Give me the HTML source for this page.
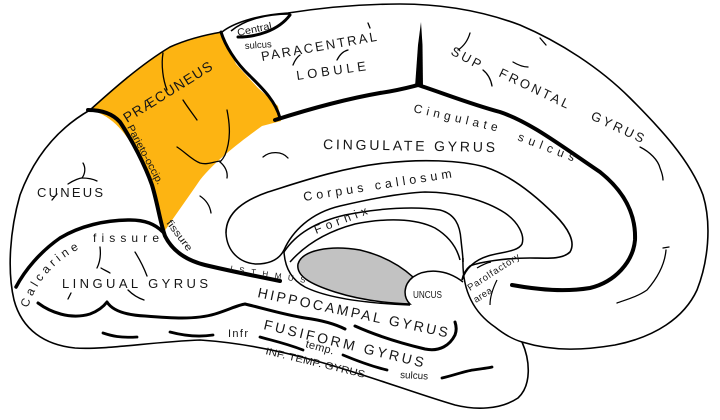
<!DOCTYPE html>
<html>
<head>
<meta charset="utf-8">
<style>
  html,body{margin:0;padding:0;background:#fff;}
  svg{display:block;}
  text{font-family:"Liberation Sans", Arial, sans-serif;fill:#161616;}
</style>
</head>
<body>
<svg width="720" height="420" viewBox="0 0 720 420" xmlns="http://www.w3.org/2000/svg">
  <rect width="720" height="420" fill="#fff"/>

  <!-- Praecuneus yellow region -->
  <path d="M90,110 C110,92 140,65 168,48 C188,39 208,35 221,32 L236,64 L258,88 L278,106 L281,121 L262,126 C240,142 216,160 200,180 C190,195 176,214 164,232 L160,212 C156,190 146,166 132,145 C122,128 108,114 90,110 Z" fill="#FDB412"/>

  <!-- Outer outline -->
  <path d="M90,110 C110,92 140,65 170,47 C190,38 210,34 222,32 C232,24 255,15 288,13 C320,8 360,4 400,4 C440,4 480,10 520,25 C560,42 600,68 630,98 C660,128 690,160 703,195 C712,225 708,262 697,290 C684,318 655,337 615,345 C585,350 555,352 522,342 C530,360 532,385 518,398 C500,410 475,410 455,405 C420,395 370,376 320,362 C285,352 245,343 200,340 C150,342 105,350 75,348 C45,345 22,330 14,300 C7,270 10,230 20,195 C33,160 55,130 90,110 Z" fill="none" stroke="#000" stroke-width="1.6" stroke-linejoin="round"/>

  <!-- Frontal lower boundary / paraolfactory -->
  <path d="M463,258 C462,285 470,310 495,327 C505,335 515,340 522,342" fill="none" stroke="#000" stroke-width="1.5"/>

  <!-- Central sulcus lens -->
  <path d="M231,31 C244,20 265,14 290,14" fill="none" stroke="#000" stroke-width="1.5"/>
  <path d="M238,37 C256,37 278,31 290,15" fill="none" stroke="#000" stroke-width="3" stroke-linecap="round"/>

  <!-- Paracentral left border -->
  <path d="M221,32 C225,45 235,62 250,76 C262,88 275,100 280,118" fill="none" stroke="#000" stroke-width="3" stroke-linecap="round"/>

  <!-- Cingulate sulcus -->
  <path d="M275,120 C300,112 340,100 380,93 C400,90 410,87 418,85 C440,92 470,104 500,112 C530,122 560,145 600,172 C625,192 636,215 635,240 C633,262 615,282 590,288 C565,292 540,290 512,285" fill="none" stroke="#000" stroke-width="4" stroke-linecap="round" stroke-linejoin="round"/>
  <path d="M415,87 L418,45 L421,22 L422.5,45 L423,87 Z" fill="#000"/>

  <!-- Parieto-occipital sulcus & continuation -->
  <path d="M88,110 C100,110 112,113 120,122 C132,140 145,165 152,185 C158,205 160,222 165,236 C172,250 185,260 205,265 C230,271 255,276 280,281" fill="none" stroke="#000" stroke-width="4" stroke-linecap="round" stroke-linejoin="round"/>

  <!-- Calcarine fissure -->
  <path d="M16,287 C25,270 40,252 60,238 C80,226 105,220 130,220 C145,220 155,224 163,232" fill="none" stroke="#000" stroke-width="3.5" stroke-linecap="round"/>

  <!-- Collateral sulcus -->
  <path d="M38,303 C50,312 70,320 90,314 C98,311 104,306 107,302 C112,310 125,315 145,316 C170,318 195,320 215,314 C228,310 238,305 245,304 C262,308 285,315 305,318 C320,320 335,324 345,329" fill="none" stroke="#000" stroke-width="3" stroke-linecap="round" stroke-linejoin="round"/>

  <!-- Hippocampal lower curve -->
  <path d="M355,326 C375,335 400,343 425,349 C440,352 450,345 455,335 C457,330 456,325 455,322" fill="none" stroke="#000" stroke-width="3" stroke-linecap="round"/>

  <!-- Corpus callosum outer -->
  <path d="M226,233 C226,212 245,200 268,192 C300,182 340,168 385,163 C420,159 460,160 485,167 C510,175 535,195 555,215 C568,228 576,242 570,252 C562,260 545,258 530,258 C505,258 480,262 470,266 C465,270 463,275 462,280" fill="none" stroke="#000" stroke-width="1.6"/>
  <!-- Corpus callosum inner loop -->
  <path d="M226,233 C227,252 240,263 256,264 C272,264 280,258 284,250 C292,232 310,213 340,206 C370,199 400,193 425,192 C455,192 485,200 505,213 C518,222 525,235 522,244 C518,252 500,252 488,256 C475,260 466,268 462,280" fill="none" stroke="#000" stroke-width="1.5"/>
  <!-- Fornix -->
  <path d="M284,252 C295,235 315,222 345,215 C380,208 415,206 440,210 C455,214 460,225 461,240 C462,250 463,256 463,262" fill="none" stroke="#000" stroke-width="1.5"/>
  <path d="M290,262 C305,245 325,232 355,224 C385,218 415,218 435,228 C450,237 457,248 460,260" fill="none" stroke="#000" stroke-width="1.5"/>

  <!-- Gray ellipse -->
  <path d="M298,264 C302,250 330,245 360,250 C385,256 402,267 413,277 C403,285 403,297 410,304 C385,303 360,300 335,292 C310,284 296,276 298,264 Z" fill="#C2C2C2" stroke="#000" stroke-width="1.5"/>
  <path d="M284,252 C285,268 292,280 305,287 C325,297 360,303 410,305" fill="none" stroke="#000" stroke-width="1.5"/>

  <!-- Uncus -->
  <path d="M413,277 C425,269 445,268 463,282" fill="none" stroke="#000" stroke-width="1.5"/>
  <path d="M477,268 C482,265 486,263 491,262" fill="none" stroke="#000" stroke-width="1.3"/>
  <path d="M497,280 C493,288 490,296 490,305" fill="none" stroke="#000" stroke-width="1.2"/>

  <!-- Small sulcus marks (thin) -->
  <g fill="none" stroke="#000" stroke-width="1.3" stroke-linecap="round">
    <path d="M470,33 C468,40 464,46 458,50"/>
    <path d="M483,70 C488,74 491,80 492,86"/>
    <path d="M513,62 C518,65 523,67 528,67"/>
    <path d="M540,38 L546,45"/>
    <path d="M640,147 C650,152 658,160 660,168 C662,173 663,177 663,180"/>
    <path d="M666,250 C665,262 660,275 647,290 C637,297 625,300 617,303"/>
    <path d="M663,248 L669,247"/>
    <path d="M293,65 C295,60 297,57 300,55"/>
    <path d="M337,60 C340,54 344,51 348,50"/>
    <path d="M368,23 L370,28"/>
    <path d="M163,53 C161,65 163,80 167,90"/>
    <path d="M183,100 C188,108 193,114 197,120"/>
    <path d="M227,110 C230,125 231,140 225,155 C223,159 221,161 220,162"/>
    <path d="M220,162 C225,166 228,172 227,178"/>
    <path d="M177,147 C185,152 192,160 200,163 C207,165 213,162 220,161"/>
    <path d="M83,163 C86,168 85,174 82,178"/>
    <path d="M68,184 C74,180 80,178 82,178 C88,178 93,179 97,181"/>
    <path d="M52,200 L57,194"/>
    <path d="M263,157 C270,151 282,151 288,158"/>
    <path d="M200,196 C206,200 210,206 211,213"/>
    <path d="M100,247 C101,255 100,262 97,268"/>
    <path d="M101,268 C104,270 107,271 110,273"/>
    <path d="M135,252 C140,260 144,268 147,276"/>
    <path d="M128,290 C133,295 138,298 144,300"/>
    <path d="M71,293 L68,299"/>
  </g>

  <!-- Thick temporal marks -->
  <g fill="none" stroke="#000" stroke-width="2.8" stroke-linecap="round">
    <path d="M103,333 C112,336 120,338 137,337"/>
    <path d="M170,332 C185,336 200,337 213,335"/>
    <path d="M260,337 C270,340 285,343 303,350"/>
    <path d="M343,355 C355,360 370,366 387,370"/>
    <path d="M442,378 C455,375 465,371 473,370 C480,369 488,368 492,367"/>
  </g>

  <!-- Labels -->
  <text transform="translate(238,36) rotate(-12)" font-size="10" textLength="35" lengthAdjust="spacingAndGlyphs">Central</text>
  <text transform="translate(245,49) rotate(-4)" font-size="9.5" textLength="27" lengthAdjust="spacingAndGlyphs">sulcus</text>
  <text transform="translate(262,61) rotate(-10)" font-size="13" textLength="117" lengthAdjust="spacing">PARACENTRAL</text>
  <text transform="translate(297,80) rotate(-8)" font-size="13" textLength="70" lengthAdjust="spacing">LOBULE</text>
  <text transform="translate(127,123) rotate(-32)" font-size="14" textLength="102" lengthAdjust="spacing">PRÆCUNEUS</text>
  <text transform="translate(127,127) rotate(62)" font-size="10" textLength="66" lengthAdjust="spacingAndGlyphs">Parieto-occip.</text>
  <text transform="translate(166,223) rotate(53)" font-size="10" textLength="36" lengthAdjust="spacingAndGlyphs">fissure</text>
  <text x="37" y="197" font-size="13" textLength="66" lengthAdjust="spacing">CUNEUS</text>
  <path id="calc" d="M28,308 C35,284 55,258 88,245" fill="none"/>
  <text font-size="12"><textPath href="#calc" textLength="80" lengthAdjust="spacing">Calcarine</textPath></text>
  <text x="93" y="242" font-size="12" textLength="66" lengthAdjust="spacing">fissure</text>
  <text x="62" y="288" font-size="13" textLength="146" lengthAdjust="spacing">LINGUAL GYRUS</text>
  <text transform="translate(230,271) rotate(9)" font-size="8" textLength="76" lengthAdjust="spacing">ISTHMUS</text>
  <text transform="translate(257,297) rotate(12)" font-size="14" textLength="194" lengthAdjust="spacing">HIPPOCAMPAL GYRUS</text>
  <text transform="translate(263,329) rotate(13.5)" font-size="14" textLength="164" lengthAdjust="spacing">FUSIFORM GYRUS</text>
  <text x="228" y="337" font-size="11" textLength="20" lengthAdjust="spacing">Infr</text>
  <text transform="translate(305,347) rotate(15)" font-size="11" textLength="29" lengthAdjust="spacing">temp.</text>
  <text transform="translate(400,378) rotate(3)" font-size="10" textLength="28" lengthAdjust="spacingAndGlyphs">sulcus</text>
  <text transform="translate(265,354) rotate(13.5)" font-size="10" textLength="102" lengthAdjust="spacingAndGlyphs">INF. TEMP. GYRUS</text>
  <text x="413" y="298" font-size="10" textLength="29" lengthAdjust="spacingAndGlyphs">UNCUS</text>
  <text transform="translate(470,291) rotate(-33)" font-size="9.5" textLength="60" lengthAdjust="spacing">Parolfactory</text>
  <text transform="translate(476,303) rotate(-33)" font-size="9.5" textLength="20" lengthAdjust="spacing">area</text>
  <text transform="translate(316,234) rotate(-21)" font-size="12" textLength="56" lengthAdjust="spacing">Fornix</text>
  <text transform="translate(304,201) rotate(-9)" font-size="12.5" textLength="150" lengthAdjust="spacing">Corpus callosum</text>
  <text transform="translate(323,149) rotate(1)" font-size="14" textLength="172" lengthAdjust="spacing">CINGULATE GYRUS</text>
  <text transform="translate(413,112) rotate(13)" font-size="12" textLength="86" lengthAdjust="spacing">Cingulate</text>
  <text transform="translate(517,140) rotate(21)" font-size="12" textLength="60" lengthAdjust="spacing">sulcus</text>
  <text transform="translate(450,54) rotate(28)" font-size="13" textLength="32" lengthAdjust="spacing">SUP</text>
  <text transform="translate(498,76) rotate(25.5)" font-size="13" textLength="76" lengthAdjust="spacing">FRONTAL</text>
  <text transform="translate(590,119) rotate(25)" font-size="13" textLength="57" lengthAdjust="spacing">GYRUS</text>
</svg>
</body>
</html>
